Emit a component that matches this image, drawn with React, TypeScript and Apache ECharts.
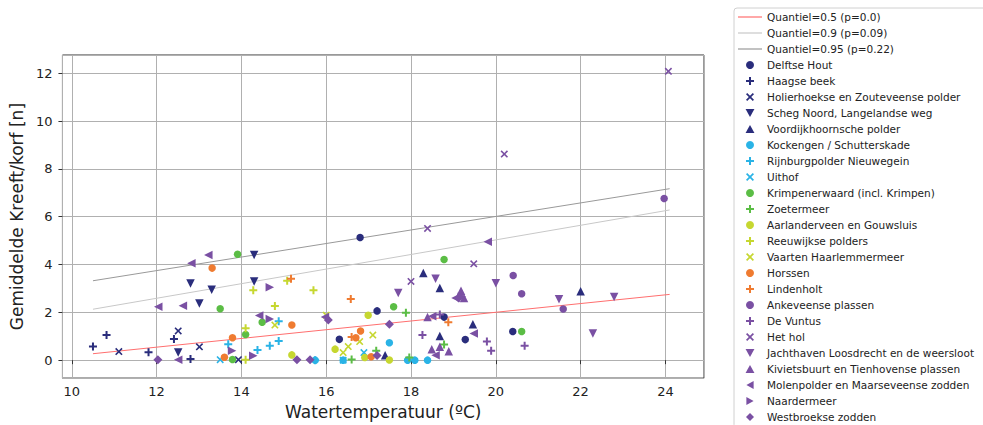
import React, { useEffect, useRef } from "react";
import * as echarts from "echarts";

// ---- Quantile regression lines (start / end points) ----
const q50: number[][] = [[10.5, 0.27], [24.1, 2.75]];
const q90: number[][] = [[10.5, 2.13], [24.1, 6.28]];
const q95: number[][] = [[10.5, 3.32], [24.1, 7.17]];

// ---- Sites: [watertemperatuur, gemiddelde kreeft/korf] ----
const delftseHout = [[16.8, 5.13], [17.2, 2.06], [16.31, 0.87], [18.78, 1.8], [19.28, 0.86], [20.4, 1.2]];
const haagseBeek = [[10.5, 0.57], [10.82, 1.05], [11.81, 0.33], [12.41, 0.89], [12.8, 0.05]];
const holierhoekse = [[11.11, 0.36], [12.51, 1.22], [13.01, 0.56], [13.93, 0.02]];
const schegNoord = [[12.8, 3.21], [13.3, 2.94], [13.01, 2.37], [12.51, 0.32], [14.3, 4.4], [14.3, 3.29]];
const voordijkhoornsche = [[18.29, 3.64], [18.68, 3.02], [19.46, 1.5], [18.68, 1.01], [22.0, 2.88], [17.39, 0.21]];
const kockengen = [[17.49, 0.73], [17.92, 0], [18.09, 0], [18.39, 0], [15.74, 0], [16.4, 0]];
const rijnburgpolder = [[13.69, 0.67], [14.38, 0.42], [14.67, 0.6], [14.88, 0.8], [14.88, 1.63], [15.74, 0]];
const uithof = [[13.5, 0.02], [16.89, 0.32], [16.4, 0]];
const krimpenerwaard = [[13.91, 4.43], [13.5, 2.15], [14.49, 1.59], [14.1, 1.07], [13.79, 0.03], [17.59, 2.23], [18.78, 4.21], [20.61, 1.2]];
const zoetermeer = [[17.88, 1.98], [16.6, 0.03], [17.18, 0.39], [17.96, 0.11], [18.78, 0.66]];
const aarlanderveen = [[16.99, 1.88], [16.21, 0.46], [15.19, 0.22], [16.91, 0.11], [17.49, 0.01]];
const reeuwijkse = [[15.08, 3.32], [14.28, 2.92], [15.7, 2.92], [14.79, 2.26], [14.1, 1.33], [14.1, 0.02]];
const vaarten = [[14.79, 1.47], [16.0, 1.88], [17.1, 1.05], [16.79, 0.78], [16.52, 0.57], [16.4, 0.32]];
const horssen = [[13.31, 3.85], [15.19, 1.47], [13.79, 0.94], [16.81, 1.22], [16.7, 0.94], [13.6, 0.12], [17.06, 0.14]];
const lindenholt = [[15.17, 3.4], [16.58, 2.56], [16.6, 0.97], [18.88, 1.59]];
const ankeveense = [[23.97, 6.76], [20.41, 3.54], [20.61, 2.78], [21.59, 2.14]];
const deVuntus = [[18.27, 1.05], [19.79, 0.78], [19.89, 0.39], [20.68, 0.6], [18.68, 1.91]];
const hetHol = [[24.07, 12.08], [20.2, 8.62], [18.39, 5.51], [19.48, 4.03], [18.0, 3.29]];
const jachthaven = [[17.7, 2.81], [18.58, 3.4], [20.0, 3.22], [21.49, 2.55], [22.79, 2.64], [22.29, 1.12]];
const kivietsbuurt = [[19.18, 2.9], [19.25, 2.6], [18.39, 1.8], [18.49, 0.46], [18.68, 0.56], [18.89, 0.37]];
const molenpolder = [[13.22, 4.4], [12.82, 4.05], [12.04, 2.23], [12.62, 2.28], [12.51, 0.02], [14.42, 1.87], [15.97, 1.8], [19.81, 4.95], [18.5, 1.84], [19.48, 1.11], [18.58, 0.21], [19.05, 2.6]];
const naardermeer = [[14.67, 3.05], [14.67, 1.72], [13.78, 0.39], [14.28, 0.18], [19.2, 2.65]];
const westbroekse = [[12.03, 0.02], [15.31, 0.02], [15.62, 0.02], [17.2, 0.2], [17.49, 1.5], [16.05, 1.68], [19.12, 2.6]];

const NAVY = "#2a2d7c";
const CYAN = "#2ab3e6";
const GREEN = "#5bbd45";
const LIME = "#c6d730";
const ORANGE = "#ef7b30";
const PURPLE = "#7a50a3";

const CIRCLE = "circle";
const PLUS = "path://M3,0H5V3H8V5H5V8H3V5H0V3H3Z";
const CROSS = "path://M0,1.2L1.2,0L4,2.8L6.8,0L8,1.2L5.2,4L8,6.8L6.8,8L4,5.2L1.2,8L0,6.8L2.8,4Z";
const TRI_DOWN = "path://M0,0H10L5,9Z";
const TRI_UP = "path://M5,0L10,9H0Z";
const TRI_LEFT = "path://M9,0V10L0,5Z";
const TRI_RIGHT = "path://M0,0V10L9,5Z";
const DIAMOND = "path://M5,0L10,5L5,10L0,5Z";
const LINE_ICON = "path://M0,0H24V1.2H0Z";

const SIZES: Record<string, number> = {
  [CIRCLE]: 7.5, [PLUS]: 8, [CROSS]: 7.5, [TRI_DOWN]: 8.5, [TRI_UP]: 8.5, [TRI_LEFT]: 8.5, [TRI_RIGHT]: 8.5, [DIAMOND]: 9,
};

const lines = [
  { name: "Quantiel=0.5 (p=0.0)", data: q50, color: "#ff6f6f" },
  { name: "Quantiel=0.9 (p=0.09)", data: q90, color: "#c8c8c8" },
  { name: "Quantiel=0.95 (p=0.22)", data: q95, color: "#999999" },
];

const sites = [
  { name: "Delftse Hout", data: delftseHout, color: NAVY, symbol: CIRCLE },
  { name: "Haagse beek", data: haagseBeek, color: NAVY, symbol: PLUS },
  { name: "Holierhoekse en Zouteveense polder", data: holierhoekse, color: NAVY, symbol: CROSS },
  { name: "Scheg Noord, Langelandse weg", data: schegNoord, color: NAVY, symbol: TRI_DOWN },
  { name: "Voordijkhoornsche polder", data: voordijkhoornsche, color: NAVY, symbol: TRI_UP },
  { name: "Kockengen / Schutterskade", data: kockengen, color: CYAN, symbol: CIRCLE },
  { name: "Rijnburgpolder Nieuwegein", data: rijnburgpolder, color: CYAN, symbol: PLUS },
  { name: "Uithof", data: uithof, color: CYAN, symbol: CROSS },
  { name: "Krimpenerwaard (incl. Krimpen)", data: krimpenerwaard, color: GREEN, symbol: CIRCLE },
  { name: "Zoetermeer", data: zoetermeer, color: GREEN, symbol: PLUS },
  { name: "Aarlanderveen en Gouwsluis", data: aarlanderveen, color: LIME, symbol: CIRCLE },
  { name: "Reeuwijkse polders", data: reeuwijkse, color: LIME, symbol: PLUS },
  { name: "Vaarten Haarlemmermeer", data: vaarten, color: LIME, symbol: CROSS },
  { name: "Horssen", data: horssen, color: ORANGE, symbol: CIRCLE },
  { name: "Lindenholt", data: lindenholt, color: ORANGE, symbol: PLUS },
  { name: "Ankeveense plassen", data: ankeveense, color: PURPLE, symbol: CIRCLE },
  { name: "De Vuntus", data: deVuntus, color: PURPLE, symbol: PLUS },
  { name: "Het hol", data: hetHol, color: PURPLE, symbol: CROSS },
  { name: "Jachthaven Loosdrecht en de weersloot", data: jachthaven, color: PURPLE, symbol: TRI_DOWN },
  { name: "Kivietsbuurt en Tienhovense plassen", data: kivietsbuurt, color: PURPLE, symbol: TRI_UP },
  { name: "Molenpolder en Maarseveense zodden", data: molenpolder, color: PURPLE, symbol: TRI_LEFT },
  { name: "Naardermeer", data: naardermeer, color: PURPLE, symbol: TRI_RIGHT },
  { name: "Westbroekse zodden", data: westbroekse, color: PURPLE, symbol: DIAMOND },
];

const FONT = "DejaVu Sans";

export default function App() {
  const ref = useRef<HTMLDivElement>(null);
  useEffect(() => {
    if (!ref.current) return;
    const chart = echarts.init(ref.current, undefined, { renderer: "svg" });
    const series: any[] = [];
    lines.forEach((l) => {
      series.push({
        type: "line",
        name: l.name,
        data: l.data,
        showSymbol: false,
        symbol: "none",
        color: l.color,
        lineStyle: { color: l.color, width: 1 },
        itemStyle: { color: l.color },
        z: 2,
      });
    });
    sites.forEach((s) => {
      series.push({
        type: "scatter",
        name: s.name,
        data: s.data,
        symbol: s.symbol,
        symbolSize: SIZES[s.symbol],
        itemStyle: { color: s.color, opacity: 1 },
        z: 3,
      });
    });
    const legendData = [
      ...lines.map((l) => ({ name: l.name, icon: LINE_ICON })),
      ...sites.map((s) => ({ name: s.name, icon: s.symbol })),
    ];
    chart.setOption({
      animation: false,
      textStyle: { fontFamily: FONT },
      grid: {
        left: 56.5,
        top: 55,
        width: 647.5,
        height: 325.7,
        show: true,
        borderColor: "#333",
        borderWidth: 1,
        backgroundColor: "transparent",
      },
      xAxis: {
        type: "value",
        min: 9.78,
        max: 24.91,
        splitNumber: 7,
        name: "Watertemperatuur (ºC)",
        nameLocation: "middle",
        nameGap: 22,
        nameTextStyle: { fontSize: 17, color: "#222", fontFamily: FONT },
        axisLine: { show: false },
        axisTick: { show: true, length: 4, lineStyle: { color: "#333" } },
        axisLabel: { fontSize: 13, color: "#222", margin: 7, showMinLabel: false, showMaxLabel: false, fontFamily: FONT },
        splitLine: { show: true, lineStyle: { color: "#b0b0b0", width: 1 } },
      },
      yAxis: {
        type: "value",
        min: -0.75,
        max: 12.76,
        splitNumber: 6,
        name: "Gemiddelde Kreeft/korf [n]",
        nameLocation: "middle",
        nameGap: 31,
        nameTextStyle: { fontSize: 17, color: "#222", fontFamily: FONT },
        axisLine: { show: false },
        axisTick: { show: true, length: 4, lineStyle: { color: "#333" } },
        axisLabel: { fontSize: 13, color: "#222", margin: 10, showMinLabel: false, showMaxLabel: false, fontFamily: FONT },
        splitLine: { show: true, lineStyle: { color: "#b0b0b0", width: 1 } },
      },
      legend: {
        orient: "vertical",
        left: 734,
        top: 8,
        height: 440,
        padding: [3.5, 30, 5, 4],
        itemWidth: 24,
        itemHeight: 8,
        itemGap: 5,
        backgroundColor: "#fff",
        borderColor: "#d0d0d0",
        borderWidth: 1,
        borderRadius: 3,
        data: legendData,
        textStyle: { fontSize: 10.5, lineHeight: 10, color: "#222", fontFamily: FONT },
        selectedMode: false,
      },
      series,
    });
    return () => chart.dispose();
  }, []);
  return (
    <div
      ref={ref}
      style={{ position: "absolute", left: 0, top: 0, width: 983, height: 425, background: "#fff" }}
    />
  );
}
